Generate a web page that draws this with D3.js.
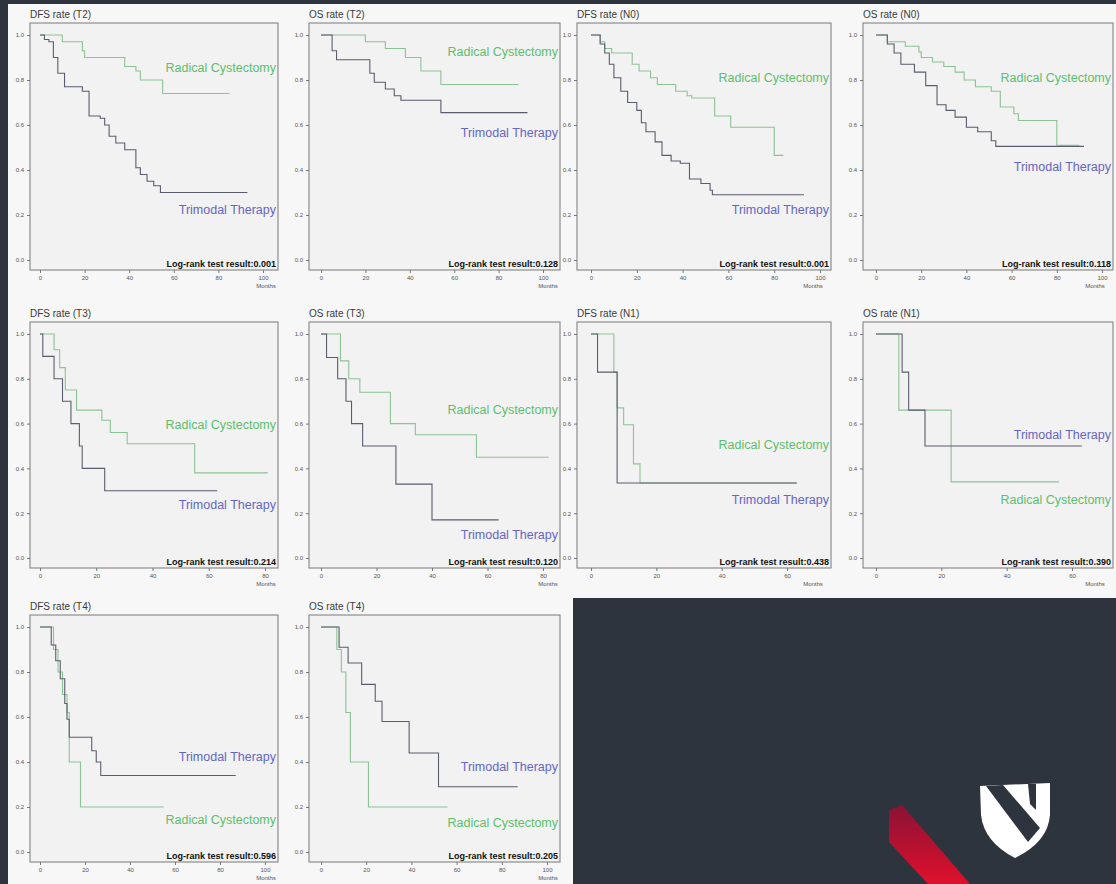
<!DOCTYPE html>
<html>
<head>
<meta charset="utf-8">
<script src="https://cdn.jsdelivr.net/npm/d3@7"></script>
<style>
  body { margin: 0; background: #2e343e; }
  svg { display: block; font-family: "Liberation Sans", Arial, sans-serif; }
</style>
</head>
<body>
<svg id="base" width="1116" height="884"></svg>
<script>
// ---------------- data ----------------
const panelTitles = ["DFS rate (T2)", "OS rate (T2)", "DFS rate (N0)", "OS rate (N0)",
                     "DFS rate (T3)", "OS rate (T3)", "DFS rate (N1)", "OS rate (N1)",
                     "DFS rate (T4)", "OS rate (T4)"];
const logRankP = ["0.001", "0.128", "0.001", "0.118", "0.214", "0.120", "0.438", "0.390", "0.596", "0.205"];
const xTickMax = [100, 100, 100, 100, 80, 80, 60, 60, 100, 100];
const yTicks = [0, 0.2, 0.4, 0.6, 0.8, 1.0];
const groupNames = ["Radical Cystectomy", "Trimodal Therapy"];

// Kaplan-Meier steps: [months, survival]
const rcDfsT2  = [[0,1],[10,0.97],[19,0.93],[20,0.90],[38,0.86],[43,0.84],[45,0.80],[55,0.74],[85,0.74]];
const tmtDfsT2 = [[0,1],[2,0.98],[4,0.97],[6,0.90],[8,0.83],[11,0.77],[19,0.75],[22,0.64],[27,0.63],[29,0.60],[31,0.55],[34,0.52],[38,0.49],[43,0.41],[45,0.38],[48,0.35],[51,0.33],[54,0.30],[93,0.30]];
const rcOsT2   = [[0,1],[20,0.97],[29,0.94],[38,0.90],[45,0.84],[54,0.78],[89,0.78]];
const tmtOsT2  = [[0,1],[5,0.93],[7,0.89],[22,0.83],[24,0.79],[29,0.76],[33,0.73],[36,0.71],[54,0.655],[93,0.655]];
const rcDfsN0  = [[0,1],[4,0.97],[6,0.94],[9,0.92],[18,0.87],[21,0.84],[26,0.81],[29,0.78],[37,0.75],[42,0.73],[44,0.72],[54,0.64],[61,0.59],[80,0.465],[84,0.465]];
const tmtDfsN0 = [[0,1],[4,0.96],[6,0.92],[8,0.87],[10,0.81],[13,0.75],[16,0.70],[20,0.665],[22,0.61],[24,0.57],[28,0.525],[31,0.465],[35,0.44],[39,0.43],[43,0.36],[48,0.34],[52,0.31],[53,0.29],[93,0.29]];
const rcOsN0   = [[0,1],[5,0.97],[13,0.95],[19,0.925],[20,0.90],[25,0.88],[30,0.86],[35,0.835],[39,0.80],[44,0.77],[51,0.75],[55,0.68],[61,0.65],[63,0.62],[80,0.51],[90,0.51]];
const tmtOsN0  = [[0,1],[5,0.96],[8,0.92],[11,0.87],[17,0.835],[22,0.775],[27,0.69],[31,0.665],[35,0.635],[40,0.59],[45,0.57],[51,0.53],[53,0.505],[92,0.505]];
const rcDfsT3  = [[0,1],[5,0.93],[7,0.85],[9,0.75],[13,0.66],[22,0.615],[25,0.56],[31,0.51],[55,0.38],[81,0.38]];
const tmtDfsT3 = [[0,1],[1,0.90],[5,0.80],[8,0.70],[11,0.60],[14,0.50],[15,0.40],[23,0.30],[63,0.30]];
const rcOsT3   = [[0,1],[7,0.88],[10,0.80],[14,0.74],[25,0.60],[34,0.55],[56,0.45],[82,0.45]];
const tmtOsT3  = [[0,1],[2,0.895],[6,0.80],[9,0.70],[11,0.60],[15,0.50],[27,0.33],[40,0.17],[64,0.17]];
const rcDfsN1  = [[0,1],[7,0.83],[8,0.67],[10,0.595],[13,0.42],[15,0.335],[63,0.335]];
const tmtDfsN1 = [[0,1],[2,0.83],[8,0.335],[63,0.335]];
const rcOsN1   = [[0,1],[7,0.66],[23,0.34],[56,0.34]];
const tmtOsN1  = [[0,1],[8,0.83],[10,0.66],[15,0.50],[63,0.50]];
const rcDfsT4  = [[0,1],[6,0.90],[8,0.80],[10,0.70],[12,0.62],[13,0.40],[18,0.20],[55,0.20]];
const tmtDfsT4 = [[0,1],[5,0.92],[7,0.85],[9,0.77],[11,0.66],[12,0.59],[13,0.51],[23,0.45],[25,0.40],[27,0.34],[87,0.34]];
const rcOsT4   = [[0,1],[7,0.90],[9,0.80],[11,0.62],[13,0.40],[21,0.20],[56,0.20]];
const tmtOsT4  = [[0,1],[8,0.91],[12,0.84],[18,0.745],[24,0.67],[27,0.58],[39,0.44],[52,0.29],[87,0.29]];

const rcCurves  = [rcDfsT2, rcOsT2, rcDfsN0, rcOsN0, rcDfsT3, rcOsT3, rcDfsN1, rcOsN1, rcDfsT4, rcOsT4];
const tmtCurves = [tmtDfsT2, tmtOsT2, tmtDfsN0, tmtOsN0, tmtDfsT3, tmtOsT3, tmtDfsN1, tmtOsN1, tmtDfsT4, tmtOsT4];

// ---------------- layout ----------------
const cols = [[30, 278], [309, 560], [577, 831], [863, 1113]];
const rows = [[23, 270], [322, 568], [615, 862]];
const cells = [[0,0],[0,1],[0,2],[0,3],[1,0],[1,1],[1,2],[1,3],[2,0],[2,1]];
const leftPad = [10, 12, 14, 13];
const rightPad = [15, 17, 11, 11, 13, 17, 44, 41, 13, 13];
const labelOffsets = [[45,187],[29,110],[55,187],[55,144],[103,183],[88,213],[123,178],[178,113],[205,142],[208,152]]; // [rc, tmt] from frame top

const RC_TEXT = "#5cbf6c", TMT_TEXT = "#6565c6";
const RC_LINE = "#8cc394", TMT_LINE = "#5a5d6e";

const svg = d3.select("#base");

// background pieces
svg.append("rect").attr("x", 0).attr("y", 0).attr("width", 1116).attr("height", 884).attr("fill", "#2e343e");
svg.append("rect").attr("x", 8).attr("y", 4).attr("width", 1108).attr("height", 594).attr("fill", "#f7f7f7");
svg.append("rect").attr("x", 8).attr("y", 597).attr("width", 565).attr("height", 287).attr("fill", "#f7f7f7");

panelTitles.forEach((title, i) => {
    const [r, c] = cells[i];
    const left = cols[c][0], right = cols[c][1];
    const top = rows[r][0], bottom = rows[r][1];

    const x = d3.scaleLinear().domain([0, xTickMax[i]]).range([left + leftPad[c], right - rightPad[i]]);
    const y = d3.scaleLinear().domain([0, 1]).range([bottom - 10, top + 12]);

    const g = svg.append("g");

    g.append("rect").attr("x", left).attr("y", top).attr("width", right - left).attr("height", bottom - top)
        .attr("fill", "#f2f2f2").attr("stroke", "#8d8d8d").attr("stroke-width", 1.2);

    g.append("text").attr("x", left).attr("y", top - 5).attr("font-size", 10).attr("fill", "#3a3a3a").text(title);

    // axes
    const yAxis = g.append("g").attr("transform", `translate(${left},0)`)
        .call(d3.axisLeft(y).tickValues(yTicks).tickSize(3).tickFormat(d3.format(".1f")));
    const xAxis = g.append("g").attr("transform", `translate(0,${bottom})`)
        .call(d3.axisBottom(x).tickValues(d3.range(0, xTickMax[i] + 1, 20)).tickSize(3));
    [yAxis, xAxis].forEach(a => {
        a.select(".domain").remove();
        a.selectAll("line").attr("stroke", "#777");
        a.selectAll("text").attr("font-size", 6).attr("fill", "#555");
    });
    g.append("text").attr("x", right - (c === 2 || c === 3 ? 18 : 12)).attr("y", bottom + 18)
        .attr("text-anchor", "middle").attr("font-size", 6).attr("fill", "#555").text("Months");

    // survival curves
    const line = d3.line().x(d => x(d[0])).y(d => y(d[1])).curve(d3.curveStepAfter);
    g.append("path").datum(rcCurves[i]).attr("d", line)
        .attr("fill", "none").attr("stroke", RC_LINE).attr("stroke-width", 1.1);
    g.append("path").datum(tmtCurves[i]).attr("d", line)
        .attr("fill", "none").attr("stroke", TMT_LINE).attr("stroke-width", 1.1);

    // group labels
    g.append("text").attr("x", right - 2).attr("y", top + labelOffsets[i][0]).attr("dy", "0.35em")
        .attr("text-anchor", "end").attr("font-size", 12.5).attr("fill", RC_TEXT).text(groupNames[0]);
    g.append("text").attr("x", right - 2).attr("y", top + labelOffsets[i][1]).attr("dy", "0.35em")
        .attr("text-anchor", "end").attr("font-size", 12.5).attr("fill", TMT_TEXT).text(groupNames[1]);

    g.append("text").attr("x", right - 2).attr("y", bottom - 3).attr("text-anchor", "end")
        .attr("font-size", 9).attr("font-weight", "bold").attr("fill", "#111")
        .text("Log-rank test result:" + logRankP[i]);
});

// ---------------- logo (bottom right) ----------------
const defs = svg.append("defs");
const grad = defs.append("linearGradient").attr("id", "redg").attr("x1", 0).attr("y1", 0).attr("x2", 0).attr("y2", 1);
grad.append("stop").attr("offset", "0%").attr("stop-color", "#8a1235");
grad.append("stop").attr("offset", "100%").attr("stop-color", "#e0102c");
svg.append("polygon").attr("points", "889,810 902,805 970,884 928,884 889,842").attr("fill", "url(#redg)");

svg.append("path").attr("d", "M980,786 L1050,783 L1050,815 Q1048,842 1015,858 Q984,842 981,815 Z").attr("fill", "#ffffff");
svg.append("polygon").attr("points", "986,786 1003,785 1040,828 1028,842").attr("fill", "#2e343e");
svg.append("polygon").attr("points", "1028,784 1036,784 1036,810 1030,804").attr("fill", "#2e343e");
</script>
</body>
</html>
